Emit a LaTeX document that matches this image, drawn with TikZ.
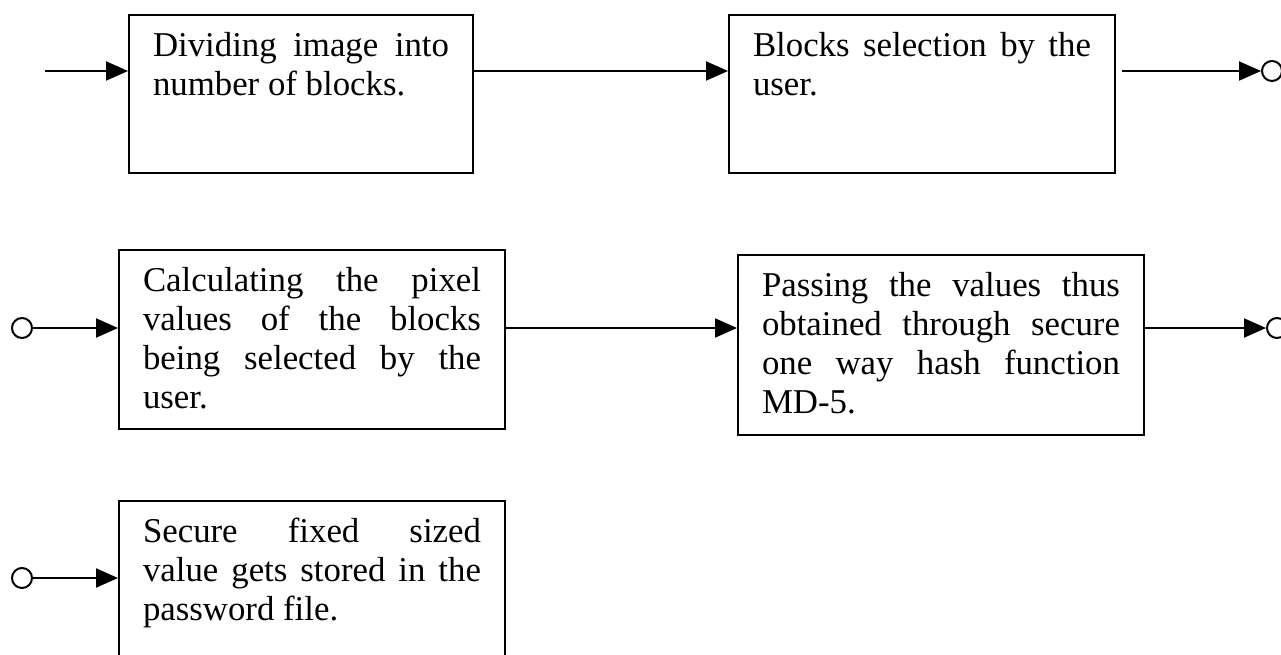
\documentclass[tikz,border=0pt]{standalone}
\usepackage{fontspec}
\setmainfont{Liberation Serif}
\usetikzlibrary{arrows.meta,positioning}
\tolerance=10000
\hyphenpenalty=10000
\tikzset{
  stepbox/.style={draw, line width=1pt, anchor=north west, align=justify, inner xsep=12pt, inner ysep=0pt, text height=20.5pt, font=\fontsize{17.4}{19.5}\selectfont},
  arrow/.style={-{Triangle[length=11pt, width=9.5pt]}, line width=1pt},
  joint/.style={draw, circle, line width=1pt, minimum size=10pt, inner sep=0pt}
}

\begin{document}
\begin{tikzpicture}[x=0.5pt, y=-0.5pt]
  \clip (0,0) rectangle (1281,654);
  % first row
  \node[stepbox, text width=148pt, text depth=58.5pt] (divide) at (128,14) {Dividing image into number of blocks.};
  \node[stepbox, text width=169pt, text depth=58.5pt, right=127pt of divide.north east, anchor=north west] (select) {Blocks selection by the user.};
  % second row
  \node[stepbox, text width=169pt, text depth=69pt] (pixel) at (118,249) {Calculating the pixel\linebreak values of the blocks\linebreak being selected by the\linebreak user.};
  \node[stepbox, text width=179pt, text depth=69.5pt] (hash) at (737,254) {Passing the values thus obtained through secure one way hash function MD-5.};
  % third row
  \node[stepbox, text width=169pt, text depth=69pt, below=35pt of pixel.south west, anchor=north west] (store) {Secure fixed sized\linebreak value gets stored in the\linebreak password file.};

  \coordinate (start) at (45,71);
  \node[joint] (outA) at (1272,71) {};
  \node[joint] (inB) at (22,328) {};
  \node[joint] (outB) at (1277,328) {};
  \node[joint] (inC) at (22,578) {};

  \draw[arrow] (start) -- (start -| divide.west);
  \draw[arrow] (start -| divide.east) -- (start -| select.west);
  \draw[arrow, shorten <=3pt] (start -| select.east) -- (outA);
  \draw[arrow] (inB) -- (inB -| pixel.west);
  \draw[arrow] (inB -| pixel.east) -- (inB -| hash.west);
  \draw[arrow] (inB -| hash.east) -- (outB);
  \draw[arrow] (inC) -- (inC -| store.west);
\end{tikzpicture}
\end{document}
